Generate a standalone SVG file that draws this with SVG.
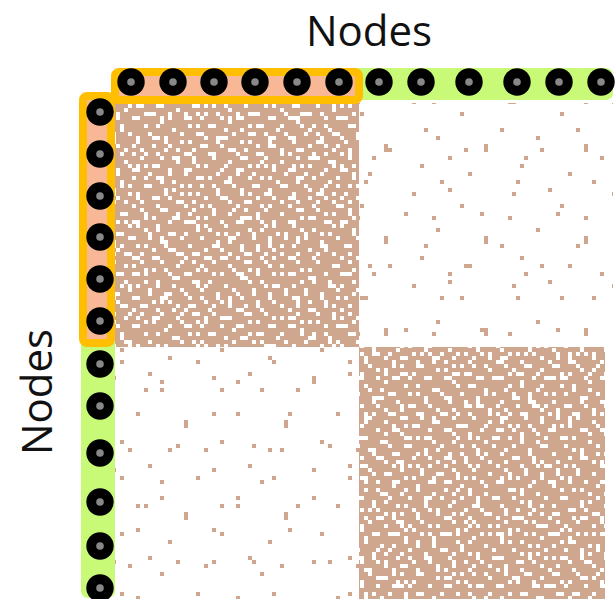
<svg xmlns="http://www.w3.org/2000/svg" width="615" height="599" viewBox="0 0 615 599">
<style>
.lbl{font-family:"Open Sans","Noto Sans",sans-serif;font-size:42px;fill:#111;text-anchor:middle}
.w{fill:#fff}
.t{fill:#CFA78F}
.dot{fill:#000}
.core{fill:#888}
</style>
<defs>
<pattern id="pa" patternUnits="userSpaceOnUse" width="52" height="52">
<g class="w">
<rect x="4" y="0" width="4" height="4"/><rect x="20" y="4" width="4" height="4"/><rect x="36" y="0" width="4" height="4"/><rect x="48" y="8" width="4" height="4"/><rect x="12" y="12" width="4" height="4"/><rect x="28" y="12" width="8" height="4"/><rect x="0" y="20" width="4" height="4"/><rect x="40" y="20" width="4" height="4"/><rect x="16" y="24" width="4" height="4"/><rect x="24" y="28" width="4" height="4"/><rect x="44" y="28" width="4" height="4"/><rect x="8" y="32" width="4" height="8"/><rect x="32" y="36" width="4" height="4"/><rect x="48" y="40" width="4" height="4"/><rect x="20" y="44" width="4" height="4"/><rect x="36" y="44" width="4" height="4"/><rect x="0" y="48" width="4" height="4"/><rect x="28" y="48" width="4" height="4"/><rect x="12" y="40" width="4" height="4"/><rect x="40" y="8" width="4" height="4"/>
</g>
</pattern>
<pattern id="pb" patternUnits="userSpaceOnUse" width="68" height="60">
<g class="w">
<rect x="8" y="4" width="4" height="4"/><rect x="24" y="0" width="4" height="4"/><rect x="52" y="4" width="4" height="4"/><rect x="60" y="12" width="4" height="4"/><rect x="36" y="8" width="4" height="4"/><rect x="0" y="16" width="4" height="4"/><rect x="16" y="16" width="8" height="4"/><rect x="44" y="20" width="4" height="4"/><rect x="64" y="24" width="4" height="4"/><rect x="28" y="28" width="4" height="4"/><rect x="8" y="32" width="4" height="4"/><rect x="52" y="32" width="4" height="4"/><rect x="36" y="36" width="8" height="4"/><rect x="0" y="44" width="4" height="4"/><rect x="20" y="44" width="4" height="4"/><rect x="60" y="44" width="4" height="4"/><rect x="12" y="52" width="4" height="4"/><rect x="32" y="52" width="4" height="4"/><rect x="48" y="52" width="4" height="4"/><rect x="64" y="56" width="4" height="4"/><rect x="24" y="56" width="4" height="4"/><rect x="44" y="12" width="4" height="4"/><rect x="56" y="40" width="4" height="4"/>
</g>
</pattern>
<pattern id="pc" patternUnits="userSpaceOnUse" width="100" height="92">
<g class="t">
<rect x="12" y="8" width="4" height="4"/><rect x="60" y="20" width="4" height="4"/><rect x="36" y="44" width="4" height="4"/><rect x="84" y="52" width="4" height="8"/><rect x="20" y="72" width="4" height="4"/><rect x="68" y="80" width="4" height="4"/><rect x="48" y="4" width="4" height="4"/>
</g>
</pattern>
<pattern id="pd" patternUnits="userSpaceOnUse" width="76" height="116">
<g class="t">
<rect x="8" y="32" width="4" height="4"/><rect x="44" y="12" width="4" height="4"/><rect x="60" y="64" width="4" height="4"/><rect x="24" y="96" width="4" height="4"/><rect x="52" y="100" width="4" height="4"/><rect x="68" y="40" width="4" height="4"/>
</g>
</pattern>
<filter id="soft" x="0" y="0" width="1" height="1"><feGaussianBlur stdDeviation="0.6"/></filter>
</defs>

<g id="matrix" filter="url(#soft)">
<rect x="115" y="103" width="498" height="496" fill="#fff"/>
<rect x="359" y="103" width="254" height="244" fill="url(#pc)"/>
<rect x="359" y="103" width="254" height="244" fill="url(#pd)"/>
<rect x="115" y="347" width="244" height="252" fill="url(#pc)"/>
<rect x="115" y="347" width="244" height="252" fill="url(#pd)"/>
<rect x="115" y="103" width="244" height="244" class="t"/>
<rect x="115" y="103" width="244" height="244" fill="url(#pa)"/>
<rect x="115" y="103" width="244" height="244" fill="url(#pb)"/>
<rect x="359" y="347" width="246" height="252" class="t"/>
<rect x="359" y="347" width="246" height="252" fill="url(#pa)"/>
<rect x="359" y="347" width="246" height="252" fill="url(#pb)"/>
</g>

<g id="bars">
<rect x="340" y="68" width="273" height="32" rx="7" fill="#C8FA78"/>
<rect x="81" y="320" width="34" height="278" rx="7" fill="#C8FA78"/>
<rect x="115" y="72" width="244" height="28" rx="4" fill="#F9B895" stroke="#FFBE00" stroke-width="8"/>
<rect x="83" y="96" width="28" height="247" rx="4" fill="#F9B895" stroke="#FFBE00" stroke-width="8"/>
</g>

<g id="top-nodes">
<g id="t1"><circle class="dot" cx="131" cy="82" r="13.7"/><circle class="core" cx="131" cy="82" r="3.8"/></g>
<g id="t2"><circle class="dot" cx="173" cy="82" r="13.7"/><circle class="core" cx="173" cy="82" r="3.8"/></g>
<g id="t3"><circle class="dot" cx="214" cy="82" r="13.7"/><circle class="core" cx="214" cy="82" r="3.8"/></g>
<g id="t4"><circle class="dot" cx="255" cy="82" r="13.7"/><circle class="core" cx="255" cy="82" r="3.8"/></g>
<g id="t5"><circle class="dot" cx="297" cy="82" r="13.7"/><circle class="core" cx="297" cy="82" r="3.8"/></g>
<g id="t6"><circle class="dot" cx="339" cy="82" r="13.7"/><circle class="core" cx="339" cy="82" r="3.8"/></g>
<g id="t7"><circle class="dot" cx="379" cy="82" r="13.7"/><circle class="core" cx="379" cy="82" r="3.8"/></g>
<g id="t8"><circle class="dot" cx="421" cy="82" r="13.7"/><circle class="core" cx="421" cy="82" r="3.8"/></g>
<g id="t9"><circle class="dot" cx="469" cy="82" r="13.7"/><circle class="core" cx="469" cy="82" r="3.8"/></g>
<g id="t10"><circle class="dot" cx="517" cy="82" r="13.7"/><circle class="core" cx="517" cy="82" r="3.8"/></g>
<g id="t11"><circle class="dot" cx="559" cy="82" r="13.7"/><circle class="core" cx="559" cy="82" r="3.8"/></g>
<g id="t12"><circle class="dot" cx="601" cy="82" r="13.7"/><circle class="core" cx="601" cy="82" r="3.8"/></g>
</g>

<g id="left-nodes">
<g id="l1"><circle class="dot" cx="100" cy="112" r="13.7"/><circle class="core" cx="100" cy="112" r="3.8"/></g>
<g id="l2"><circle class="dot" cx="100" cy="154" r="13.7"/><circle class="core" cx="100" cy="154" r="3.8"/></g>
<g id="l3"><circle class="dot" cx="100" cy="196" r="13.7"/><circle class="core" cx="100" cy="196" r="3.8"/></g>
<g id="l4"><circle class="dot" cx="100" cy="237" r="13.7"/><circle class="core" cx="100" cy="237" r="3.8"/></g>
<g id="l5"><circle class="dot" cx="100" cy="279" r="13.7"/><circle class="core" cx="100" cy="279" r="3.8"/></g>
<g id="l6"><circle class="dot" cx="100" cy="321" r="13.7"/><circle class="core" cx="100" cy="321" r="3.8"/></g>
<g id="l7"><circle class="dot" cx="100" cy="364" r="13.7"/><circle class="core" cx="100" cy="364" r="3.8"/></g>
<g id="l8"><circle class="dot" cx="100" cy="406" r="13.7"/><circle class="core" cx="100" cy="406" r="3.8"/></g>
<g id="l9"><circle class="dot" cx="100" cy="453" r="13.7"/><circle class="core" cx="100" cy="453" r="3.8"/></g>
<g id="l10"><circle class="dot" cx="100" cy="502" r="13.7"/><circle class="core" cx="100" cy="502" r="3.8"/></g>
<g id="l11"><circle class="dot" cx="100" cy="546" r="13.7"/><circle class="core" cx="100" cy="546" r="3.8"/></g>
<g id="l12"><circle class="dot" cx="100" cy="588" r="13.7"/><circle class="core" cx="100" cy="588" r="3.8"/></g>
</g>

<g id="connectors"></g>

<g id="labels">
<text class="lbl" x="369" y="46">Nodes</text>
<text class="lbl" transform="translate(52,392) rotate(-90)">Nodes</text>
</g>
</svg>
